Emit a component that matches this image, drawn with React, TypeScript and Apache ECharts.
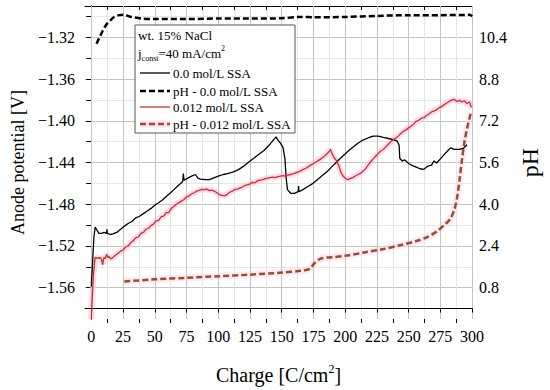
import React, { useEffect, useRef } from 'react';
import * as echarts from 'echarts';

const xMajor = [0, 25, 50, 75, 100, 125, 150, 175, 200, 225, 250, 275, 300];
const xMinor = [12.5, 37.5, 62.5, 87.5, 112.5, 137.5, 162.5, 187.5, 212.5, 237.5, 262.5, 287.5];
const xAll = [...xMajor, ...xMinor];
const vMajor = [-1.56, -1.52, -1.48, -1.44, -1.40, -1.36, -1.32];
const vMinor = [-1.58, -1.54, -1.50, -1.46, -1.42, -1.38, -1.34, -1.30];
const phMajor = [0.8, 2.4, 4.0, 5.6, 7.2, 8.8, 10.4];
const phTicks = [0, 0.8, 1.6, 2.4, 3.2, 4.0, 4.8, 5.6, 6.4, 7.2, 8.0, 8.8, 9.6, 10.4, 11.2];

const names = ['0.0 mol/L SSA', 'pH - 0.0 mol/L SSA', '0.012 mol/L SSA', 'pH - 0.012 mol/L SSA'];

const potential0 = [
  [0, -1.559], [1, -1.535], [2, -1.512], [3, -1.502], [4, -1.504], [5, -1.506], [6, -1.508], [8, -1.508], [10, -1.507],
  [12, -1.508], [12.3, -1.504], [12.6, -1.508], [15, -1.509], [17, -1.5085], [20, -1.507], [23, -1.504], [26, -1.501],
  [29, -1.4985], [32, -1.4965], [35, -1.493], [38, -1.4915], [41, -1.489], [44, -1.4865], [47, -1.484], [50, -1.481],
  [53, -1.4785], [56, -1.476], [59, -1.4725], [62, -1.4695], [65, -1.466], [68, -1.4625], [71, -1.4595], [72, -1.458],
  [72.5, -1.4505], [73, -1.457], [76, -1.455], [79, -1.453], [82, -1.4515], [84, -1.455], [86, -1.456], [90, -1.4565],
  [93, -1.4565], [96, -1.455], [100, -1.453], [104, -1.4515], [108, -1.4505], [112, -1.449], [116, -1.4468],
  [120, -1.4435], [124, -1.4395], [128, -1.436], [132, -1.432], [136, -1.4285], [140, -1.4235], [143, -1.419],
  [145.5, -1.4155], [147, -1.4185], [149, -1.4215], [151, -1.4255], [152.5, -1.436], [153.5, -1.455], [154.5, -1.466],
  [157, -1.4695], [160, -1.4695], [163, -1.468], [163.3, -1.4625], [163.6, -1.468], [166, -1.4665], [170, -1.4635],
  [174, -1.4605], [178, -1.4565], [182, -1.4525], [186, -1.4485], [190, -1.4435], [194, -1.4385], [198, -1.434],
  [202, -1.4295], [206, -1.4255], [210, -1.4215], [214, -1.4185], [218, -1.4165], [222, -1.4148], [226, -1.4148],
  [230, -1.416], [234, -1.417], [238, -1.418], [241, -1.4195], [242.5, -1.4235], [243, -1.436], [245, -1.4385],
  [247, -1.4375], [250, -1.441], [253, -1.443], [256, -1.4445], [259, -1.446], [262, -1.4465], [265, -1.4435],
  [268, -1.4425], [270, -1.4385], [272, -1.4405], [275, -1.4365], [278, -1.4325], [281, -1.4285], [283, -1.426],
  [286, -1.4275], [290, -1.4275], [293, -1.4265], [296, -1.423]
];

const potential012 = [
  [0, -1.59], [0.5, -1.575], [1.5, -1.55], [2.5, -1.536], [3, -1.531], [4, -1.532], [5, -1.531], [6, -1.532], [7, -1.531],
  [8, -1.533], [9, -1.538], [9.5, -1.533], [10, -1.531], [11, -1.532], [12, -1.528], [13, -1.531], [14, -1.53],
  [15, -1.532], [16, -1.532], [17, -1.531], [19, -1.529], [21, -1.527], [23, -1.525], [25, -1.524], [27, -1.521],
  [29, -1.52], [31, -1.517], [33, -1.515], [35, -1.512], [37, -1.5115], [39, -1.508], [41, -1.507], [43, -1.504],
  [45, -1.503], [47, -1.5005], [49, -1.499], [51, -1.496], [53, -1.4955], [55, -1.492], [57, -1.4915], [59, -1.488],
  [61, -1.488], [63, -1.484], [65, -1.482], [67, -1.48], [69, -1.4785], [71, -1.477], [73, -1.4755], [75, -1.473],
  [77, -1.472], [79, -1.47], [81, -1.469], [83, -1.4675], [85, -1.4668], [87, -1.4658], [89, -1.466], [91, -1.4655],
  [93, -1.467], [95, -1.4665], [97, -1.4675], [99, -1.469], [101, -1.471], [103, -1.4715], [105, -1.472],
  [107, -1.4705], [109, -1.4685], [111, -1.4675], [113, -1.466], [115, -1.4655], [117, -1.4645], [119, -1.4635],
  [121, -1.462], [123, -1.4615], [125, -1.4605], [127, -1.459], [129, -1.4595], [131, -1.4575], [133, -1.457],
  [135, -1.4565], [137, -1.4555], [139, -1.455], [141, -1.4545], [143, -1.454], [145, -1.4545], [147, -1.4535],
  [149, -1.453], [151, -1.4525], [153, -1.453], [155, -1.452], [157, -1.4515], [159, -1.451], [161, -1.45],
  [163, -1.449], [165, -1.448], [167, -1.4465], [169, -1.4455], [171, -1.444], [173, -1.4425], [175, -1.441],
  [177, -1.4395], [179, -1.438], [181, -1.4365], [183, -1.4345], [185, -1.4325], [187, -1.43], [188.5, -1.4275],
  [189.5, -1.431], [191, -1.435], [193, -1.438], [195, -1.443], [196.5, -1.449], [198, -1.4525], [200, -1.455],
  [202, -1.4565], [204, -1.4555], [206, -1.4545], [208, -1.453], [210, -1.4515], [212, -1.4505], [214, -1.4485],
  [216, -1.446], [218, -1.4425], [220, -1.4395], [222, -1.4365], [224, -1.434], [226, -1.4315], [228, -1.429],
  [230, -1.4275], [232, -1.425], [234, -1.4225], [236, -1.42], [238, -1.418], [240, -1.4165], [242, -1.4145],
  [244, -1.412], [246, -1.41], [248, -1.4085], [250, -1.4068], [252, -1.405], [254, -1.403], [256, -1.4005],
  [258, -1.3995], [260, -1.3975], [262, -1.397], [264, -1.395], [266, -1.3935], [268, -1.3915], [270, -1.3905],
  [272, -1.3895], [274, -1.3875], [276, -1.3865], [278, -1.3845], [280, -1.383], [282, -1.3815], [284, -1.38],
  [286, -1.3795], [288, -1.3815], [290, -1.3805], [292, -1.382], [294, -1.381], [296, -1.3835], [298, -1.382],
  [299, -1.386], [300, -1.387]
];

const ph0 = [
  [4, 10.15], [6, 10.35], [9, 10.65], [12, 10.9], [15, 11.05], [18, 11.18], [22, 11.25], [26, 11.26], [30, 11.2],
  [40, 11.12], [50, 11.1], [75, 11.1], [100, 11.12], [125, 11.12], [150, 11.13], [165, 11.18], [175, 11.17],
  [200, 11.18], [225, 11.22], [250, 11.25], [275, 11.25], [298, 11.26], [300, 11.2]
];

const ph012 = [
  [26, 1.04], [50, 1.12], [75, 1.18], [100, 1.24], [125, 1.3], [150, 1.38], [165, 1.45], [172, 1.52], [176, 1.75],
  [181, 1.92], [190, 1.97], [200, 2.02], [215, 2.15], [230, 2.28], [245, 2.45], [257, 2.6], [265, 2.75], [272, 2.95],
  [278, 3.2], [283, 3.45], [286, 3.8], [288, 4.2], [290, 4.9], [292, 5.7], [294, 6.4], [296, 6.9], [298, 7.3], [299, 7.5]
];

const FONT = '"Liberation Serif", "Times New Roman", serif';
const fmtV = (v: number) => v.toFixed(2).replace('-', '\u2212');
const BLACK = '#000';
const RED = '#c8361a';
const BROWN = '#955222';

export default function App() {
  const ref = useRef<HTMLDivElement>(null);
  useEffect(() => {
    if (!ref.current) return;
    const chart = echarts.init(ref.current, undefined, { renderer: 'svg' });
    const axisLineStyle = { color: '#000', width: 1 };
    const legendRows = [73, 91, 107, 124];
    const legendStyles = [
      { stroke: BLACK, lineWidth: 1.3 },
      { stroke: BLACK, lineWidth: 2.5, lineDash: [6, 3] },
      { stroke: RED, lineWidth: 1.3 },
      { stroke: BROWN, lineWidth: 2.5, lineDash: [6, 3] },
    ];
    const legendGraphics: any[] = [];
    names.forEach((n, i) => {
      if (i === 3) {
        legendGraphics.push({
          type: 'line', z: 11, shape: { x1: 140, y1: legendRows[i], x2: 170, y2: legendRows[i] },
          style: { stroke: '#ffe0f4', lineWidth: 7 },
        });
      }
      legendGraphics.push({
        type: 'line', z: 12, shape: { x1: 140, y1: legendRows[i], x2: 170, y2: legendRows[i] },
        style: legendStyles[i],
      });
      legendGraphics.push({
        type: 'text', z: 12, x: 173, y: legendRows[i],
        style: { text: n, fontFamily: FONT, fontSize: 13, fill: '#000', verticalAlign: 'middle', align: 'left' },
      });
    });
    chart.setOption({
      animation: false,
      backgroundColor: '#fff',
      textStyle: { fontFamily: FONT },
      grid: { left: 85, right: 75, top: 6, bottom: 70 },
      xAxis: [
        {
          type: 'value', min: -5, max: 300, position: 'bottom',
          name: '{a|Charge [C/cm}{s|2}{a|]}', nameLocation: 'middle', nameGap: 44,
          nameTextStyle: {
            fontFamily: FONT,
            rich: {
              a: { fontFamily: FONT, fontSize: 20, color: '#000', lineHeight: 24 },
              s: { fontFamily: FONT, fontSize: 12, color: '#000', verticalAlign: 'top', lineHeight: 24, padding: [0, 0, 8, 0] },
            },
          },
          axisLine: { show: true, lineStyle: axisLineStyle },
          axisTick: { show: true, customValues: xMajor, inside: false, length: 4, lineStyle: { color: '#000' } },
          axisLabel: { customValues: xMajor, fontFamily: FONT, fontSize: 16, color: '#000', margin: 9 },
          splitLine: { show: true, lineStyle: { color: '#c4c4c4', width: 1 } },
          z: 3,
        },
        {
          type: 'value', min: -5, max: 300, position: 'bottom',
          axisLine: { show: false }, axisLabel: { show: false },
          axisTick: { show: true, customValues: xMinor, inside: false, length: 4, lineStyle: { color: '#000' } },
          splitLine: { show: true, lineStyle: { color: '#e6e6e6', width: 1 } },
        },
        {
          type: 'value', min: -5, max: 300, position: 'top',
          axisLine: { show: true, lineStyle: axisLineStyle },
          axisTick: { show: true, customValues: xAll, inside: true, length: 4, lineStyle: { color: '#000' } },
          axisLabel: { show: false },
          splitLine: { show: false },
        },
      ],
      yAxis: [
        {
          type: 'value', min: -1.59, max: -1.29, position: 'left',
          name: 'Anode potential [V]', nameLocation: 'middle', nameGap: 40, nameRotate: 90,
          nameTextStyle: { fontFamily: FONT, fontSize: 18, color: '#000' },
          axisLine: { show: true, lineStyle: axisLineStyle },
          axisTick: { show: true, customValues: vMajor, inside: false, length: 5, lineStyle: { color: '#000' } },
          axisLabel: { customValues: vMajor, formatter: fmtV, fontFamily: FONT, fontSize: 16, color: '#000', margin: 10 },
          splitLine: { show: true, lineStyle: { color: '#c4c4c4', width: 1 } },
        },
        {
          type: 'value', min: -1.59, max: -1.29, position: 'left',
          axisLine: { show: false }, axisLabel: { show: false },
          axisTick: { show: true, customValues: vMinor, inside: false, length: 3, lineStyle: { color: '#000' } },
          splitLine: { show: true, lineStyle: { color: '#e6e6e6', width: 1 } },
        },
        {
          type: 'value', min: -0.4, max: 11.6, position: 'right',
          name: 'pH', nameLocation: 'middle', nameGap: 44, nameRotate: 90,
          nameTextStyle: { fontFamily: FONT, fontSize: 24, color: '#000' },
          axisLine: { show: true, lineStyle: axisLineStyle },
          axisTick: { show: true, customValues: phTicks, inside: true, length: 5, lineStyle: { color: '#000' } },
          axisLabel: { customValues: phMajor, formatter: (v: number) => v.toFixed(1), fontFamily: FONT, fontSize: 16, color: '#000', margin: 7 },
          splitLine: { show: false },
        },
      ],
      graphic: [
        {
          type: 'rect', z: 10,
          shape: { x: 135, y: 25, width: 160, height: 108 },
          style: { fill: '#fff', stroke: '#555', lineWidth: 1 },
        },
        {
          type: 'text', z: 11, x: 138, y: 35,
          style: { text: 'wt. 15% NaCl', fontFamily: FONT, fontSize: 13, fill: '#000', verticalAlign: 'middle' },
        },
        {
          type: 'text', z: 11, x: 138, y: 53,
          style: {
            text: '{a|j}{b|const}{a|=40 mA/cm}{c|2}',
            verticalAlign: 'middle',
            fontFamily: FONT,
            rich: {
              a: { fontFamily: FONT, fontSize: 13, fill: '#000', lineHeight: 18 },
              b: { fontFamily: FONT, fontSize: 8, fill: '#000', lineHeight: 18, verticalAlign: 'bottom', padding: [6, 0, 0, 0] },
              c: { fontFamily: FONT, fontSize: 8, fill: '#000', lineHeight: 18, verticalAlign: 'top', padding: [0, 0, 6, 0] },
            },
          },
        },
        ...legendGraphics,
      ],
      series: [
        {
          type: 'line', name: 'halo1', data: potential012, xAxisIndex: 0, yAxisIndex: 0, symbol: 'none',
          lineStyle: { color: '#ffc4ec', width: 6, opacity: 0.65 }, silent: true, z: 1,
        },
        {
          type: 'line', name: 'halo2', data: ph012, xAxisIndex: 0, yAxisIndex: 2, symbol: 'none', smooth: 0.3,
          lineStyle: { color: '#ffd6f2', width: 7, opacity: 0.55 }, silent: true, z: 1,
        },
        {
          type: 'line', name: names[0], data: potential0, xAxisIndex: 0, yAxisIndex: 0, symbol: 'none',
          lineStyle: { color: BLACK, width: 1.3 }, z: 3,
        },
        {
          type: 'line', name: names[1], data: ph0, xAxisIndex: 0, yAxisIndex: 2, symbol: 'none', smooth: 0.3,
          lineStyle: { color: BLACK, width: 2.5, type: [6, 3] }, z: 3,
        },
        {
          type: 'line', name: names[2], data: potential012, xAxisIndex: 0, yAxisIndex: 0, symbol: 'none',
          lineStyle: { color: RED, width: 1.3 }, z: 3,
        },
        {
          type: 'line', name: names[3], data: ph012, xAxisIndex: 0, yAxisIndex: 2, symbol: 'none', smooth: 0.3,
          lineStyle: { color: BROWN, width: 2.5, type: [6, 3] }, z: 3,
        },
      ],
    });
    return () => chart.dispose();
  }, []);
  return <div ref={ref} style={{ width: 550, height: 390, position: 'absolute', left: 0, top: 0 }} />;
}
